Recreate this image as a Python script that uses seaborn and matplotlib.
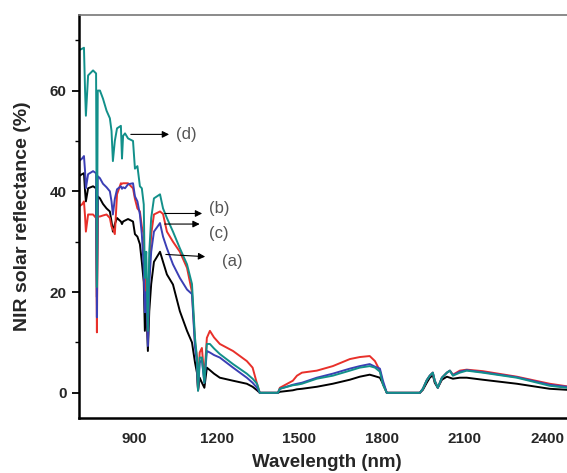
import numpy as np
import pandas as pd
import seaborn as sns
import matplotlib
matplotlib.use("Agg")
import matplotlib.pyplot as plt

wavelength = [700, 711, 718, 722, 725, 733, 751, 762, 765, 768, 776, 787, 800, 812, 818, 823, 830,
              838, 852, 856, 860, 867, 878, 896, 903, 912, 921, 928, 935, 939, 944, 950, 955, 962,
              972, 994, 1005, 1019, 1041, 1066, 1092, 1110, 1121, 1128, 1132, 1138, 1146, 1155,
              1164, 1175, 1190, 1211, 1259, 1309, 1330, 1346, 1356, 1422, 1429, 1476, 1491, 1509,
              1563, 1621, 1683, 1719, 1755, 1774, 1792, 1803, 1817, 1937, 1948, 1962, 1973, 1984,
              1991, 2002, 2017, 2035, 2046, 2057, 2082, 2107, 2165, 2289, 2408, 2470, 2500]

sample_d = [68, 68.3, 68.5, 60, 55, 63, 64, 63.4, 21, 60, 60, 58.4, 56, 54.5, 52, 46, 50,
            52.5, 53, 46.5, 51, 51.5, 50.5, 50, 44.5, 45, 41, 40.6, 37.4, 22.8, 28, 12.3, 28, 34.7,
            38.6, 39.4, 36.6, 34.7, 32, 28.7, 25.5, 21.6, 10.9, 7, 0.4, 7, 7, 2,
            9.7, 9.7, 8.8, 7.7, 5.7, 3.8, 2.8, 1.8, 0, 0, 0.8, 1.5, 1.6, 1.8,
            2.8, 3.4, 4.4, 5, 5.3, 5, 4.2, 1.6, 0, 0, 0.8, 2.5, 3.4, 4,
            2.4, 1, 3, 4, 4.4, 3.4, 4, 4.4, 4, 3, 1.4, 1, 0.9]

sample_c = [46, 46.5, 47, 44, 40.6, 43.4, 44, 43.6, 15, 43, 42.6, 41.5, 40.8, 40, 38, 35.4, 38.5,
            40.4, 41, 40.5, 40.8, 40.6, 41.4, 41.6, 39, 38, 35.4, 31.5, 24.8, 16, 20, 9.3, 21.6, 28,
            32, 33.7, 31, 28.7, 25.5, 22.8, 20.5, 19.6, 9, 6, 0.5, 6, 6.5, 2,
            8.3, 8, 7.5, 7, 5, 3, 2, 1, 0, 0, 0.8, 1.6, 1.8, 2,
            3, 3.8, 4.8, 5.3, 5.7, 5.2, 4.8, 2.4, 0, 0, 0.8, 2.5, 3.4, 4,
            2.4, 1, 3, 4, 4.4, 3.5, 4.2, 4.5, 4.1, 3.1, 1.6, 1.2, 1]

sample_b = [37, 37.4, 38, 35, 32, 35.4, 35.4, 34.7, 12, 35, 35, 35.2, 35.4, 34.7, 33, 32.5, 31.5,
            39.4, 41.6, 41.5, 41.6, 41.6, 41.6, 40.6, 38.5, 36.6, 36, 33, 31.5, 19.6, 22.8, 10.9, 24.8, 31.5,
            35.4, 36, 35.5, 32, 30, 28, 24.8, 20, 10, 7, 0.5, 8, 8.9, 3,
            10.9, 12.3, 11, 9.7, 8.3, 6.3, 5, 1.8, 0, 0, 1, 2.4, 3.4, 4,
            4.4, 5.3, 6.7, 7.1, 7.3, 6.3, 4.4, 1.8, 0, 0, 0.8, 2.5, 3.4, 4,
            2.4, 1, 3, 4, 4.4, 3.6, 4.4, 4.6, 4.3, 3.2, 1.8, 1.3, 1.1]

sample_a = [43, 43.4, 43.6, 40, 38, 40.6, 41, 40.6, 19, 39, 38.6, 37.5, 36.6, 36, 34, 32, 33.5,
            34.7, 34, 33.5, 34, 34.2, 34.5, 34, 31.5, 31, 29.5, 26, 22, 12.3, 17.6, 8.3, 16.2, 21.6,
            26, 28, 26, 23.5, 21.5, 16.2, 12.3, 10, 6, 4, 0.5, 3, 2, 1,
            5, 4.5, 3.8, 3, 2.4, 1.8, 1.2, 0.5, 0, 0, 0.2, 0.5, 0.7, 0.8,
            1.2, 1.8, 2.6, 3.2, 3.6, 3.3, 3, 1.8, 0, 0, 0.6, 2, 3, 3.5,
            2, 1, 2.6, 3.2, 3, 2.8, 3, 3, 2.6, 1.8, 0.8, 0.6, 0.5]

labels = ["(a)", "(b)", "(c)", "(d)"]
x_ticks = [900, 1200, 1500, 1800, 2100, 2400]
y_ticks = [0, 20, 40, 60]

sns.set_theme(style="white")
plt.rcParams['font.family'] = ['Liberation Sans', 'DejaVu Sans']

fig = plt.figure(figsize=(5.67, 4.73), dpi=100)
ax = fig.add_axes([79/567, 55/473, 496/567, 403/473])

series = [(sample_a, "#000000"), (sample_b, "#e8302a"), (sample_c, "#3b3fb5"), (sample_d, "#12908a")]
for vals, col in series:
    sns.lineplot(x=wavelength, y=vals, color=col, lw=1.4, ax=ax, estimator=None, sort=False)

ax.set_xlim(700, 2500)
ax.set_ylim(-5, 75)
ax.set_xticks(x_ticks)
ax.set_xticklabels([str(t) for t in x_ticks], fontweight="bold", fontsize=11)
ax.set_yticks(y_ticks)
ax.set_yticklabels([str(t) for t in y_ticks], fontweight="bold", fontsize=11)
ax.set_yticks([10, 30, 50, 70], minor=True)
ax.tick_params(axis="x", length=0, pad=10)
ax.tick_params(axis="y", which="major", length=5, width=1.3, direction="out", left=True, pad=4, color="black")
ax.tick_params(axis="y", which="minor", length=3, width=1.0, direction="out", left=True, color="black")

ax.set_xlabel("Wavelength (nm)", fontsize=13.5, fontweight="bold", labelpad=6)
ax.set_ylabel("NIR solar reflectance (%)", fontsize=14, fontweight="bold", labelpad=13)

for side in ["left", "bottom"]:
    ax.spines[side].set_color("black")
    ax.spines[side].set_linewidth(1.8)
ax.spines["top"].set_color("#777777")
ax.spines["top"].set_linewidth(1.2)
ax.spines["right"].set_visible(False)

arrow = dict(arrowstyle="-|>", color="black", lw=0.8, mutation_scale=10)
ann = [("(d)", (878, 51.3), (1037, 51.3), (1052, 51.3)),
       ("(b)", (1001, 35.6), (1157, 35.6), (1172, 36.6)),
       ("(c)", (1001, 33.5), (1148, 33.5), (1172, 31.7)),
       ("(a)", (1005, 27.5), (1168, 27.0), (1218, 26.1))]
for lab, start, end, tpos in ann:
    ax.annotate("", xy=end, xytext=start, arrowprops=arrow)
    ax.text(tpos[0], tpos[1], lab, fontsize=12, color="#555555", va="center", ha="left")

fig.savefig("out.png", dpi=100)
